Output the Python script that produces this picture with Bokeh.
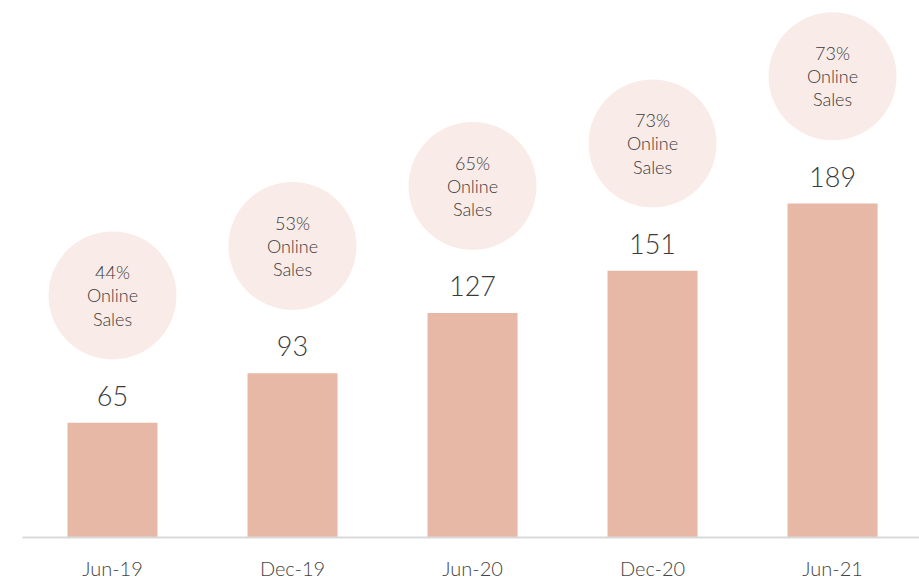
from bokeh.plotting import figure
from bokeh.models import ColumnDataSource, Range1d, FixedTicker
from bokeh.core.properties import value
from bokeh.embed import file_html
from bokeh.resources import INLINE

periods = ["Jun-19", "Dec-19", "Jun-20", "Dec-20", "Jun-21"]
sales = [65, 93, 127, 151, 189]
online_share = ["44%", "53%", "65%", "73%", "73%"]

FONT = "Lato Light"
xs = list(range(len(periods)))
bubble_offset = 72  # data units above bar top
src = ColumnDataSource(dict(
    x=xs,
    top=sales,
    label=[str(v) for v in sales],
    by=[v + bubble_offset for v in sales],
    btxt=[f"{s}\nOnline\nSales" for s in online_share],
))

p = figure(width=919, height=582, output_backend="svg", toolbar_location=None,
           x_range=Range1d(-0.5, 4.483), y_range=Range1d(0, 299.4),
           min_border_left=22, min_border_right=0, min_border_top=8, min_border_bottom=44)
p.outline_line_color = None
p.grid.grid_line_color = None
p.yaxis.visible = False

p.vbar(x="x", top="top", width=0.5, source=src, fill_color="#E6B8A5", line_color=None)
p.scatter(x="x", y="by", size=128, source=src, fill_color="#F9EBE7", line_color=None)
p.text(x="x", y="top", text="label", source=src, y_offset=-27,
       text_align="center", text_baseline="alphabetic", text_font=value(FONT),
       text_font_size="27px", text_color="#3a3a3a")
p.text(x="x", y="by", text="btxt", source=src,
       text_align="center", text_baseline="middle", text_font=value(FONT),
       text_font_size="18px", text_line_height=1.05, text_color="#3a3a3a")

p.xaxis.ticker = FixedTicker(ticks=xs)
p.xaxis.major_label_overrides = {i: s for i, s in zip(xs, periods)}
p.xaxis.major_tick_line_color = None
p.xaxis.minor_tick_line_color = None
p.xaxis.axis_line_color = "#d9d9d9"
p.xaxis.axis_line_width = 2
p.xaxis.major_label_standoff = 12
p.xaxis.major_label_text_font = FONT
p.xaxis.major_label_text_font_size = "20px"
p.xaxis.major_label_text_font_style = "normal"
p.xaxis.major_label_text_color = "#444444"

open("out.html", "w").write(file_html(p, INLINE))
